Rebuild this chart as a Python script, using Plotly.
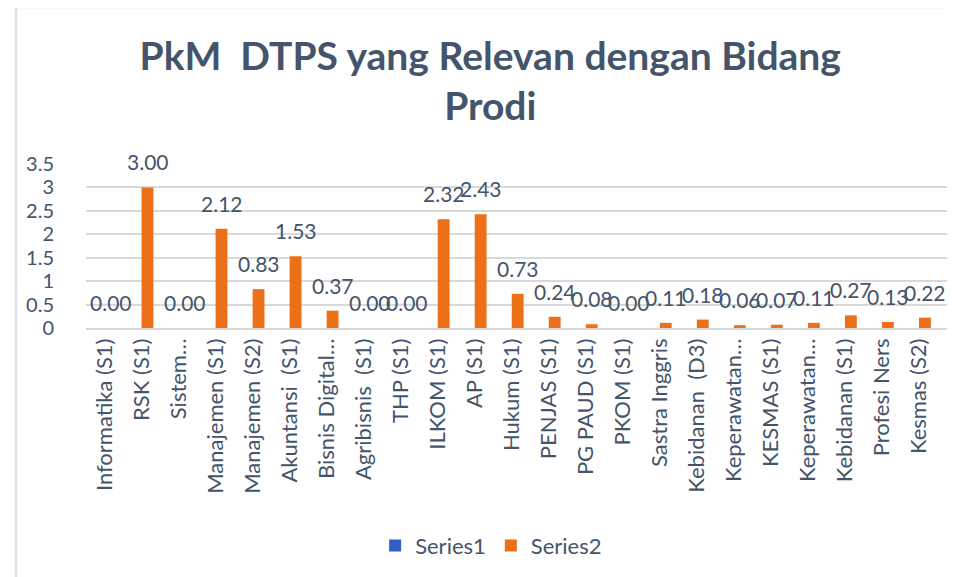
import plotly.graph_objects as go

categories = ["Informatika (S1)", "RSK (S1)", "Sistem Informasi (S1)", "Manajemen (S1)",
              "Manajemen (S2)", "Akuntansi  (S1)", "Bisnis Digital (S1)", "Agribisnis  (S1)",
              "THP (S1)", "ILKOM (S1)", "AP (S1)", "Hukum (S1)", "PENJAS (S1)",
              "PG PAUD (S1)", "PKOM (S1)", "Sastra Inggris", "Kebidanan  (D3)",
              "Keperawatan (D3)", "KESMAS (S1)", "Keperawatan (S1)", "Kebidanan (S1)",
              "Profesi Ners", "Kesmas (S2)"]
tick_labels = ["Informatika (S1)", "RSK (S1)", "Sistem…", "Manajemen (S1)",
               "Manajemen (S2)", "Akuntansi  (S1)", "Bisnis Digital…", "Agribisnis  (S1)",
               "THP (S1)", "ILKOM (S1)", "AP (S1)", "Hukum (S1)", "PENJAS (S1)",
               "PG PAUD (S1)", "PKOM (S1)", "Sastra Inggris", "Kebidanan  (D3)",
               "Keperawatan…", "KESMAS (S1)", "Keperawatan…", "Kebidanan (S1)",
               "Profesi Ners", "Kesmas (S2)"]
series1 = [0] * 23
series2 = [0.00, 3.00, 0.00, 2.12, 0.83, 1.53, 0.37, 0.00, 0.00, 2.32, 2.43, 0.73, 0.24,
           0.08, 0.00, 0.11, 0.18, 0.06, 0.07, 0.11, 0.27, 0.13, 0.22]
y_ticks = [0, 0.5, 1, 1.5, 2, 2.5, 3, 3.5]
y_tick_labels = ["0", "0.5", "1", "1.5", "2", "2.5", "3", "3.5"]

text_color = "#44546A"
font = "Lato"

fig = go.Figure()
fig.add_trace(go.Bar(name="Series1", x=categories, y=series1,
                     marker=dict(color="#2F5FC4", line=dict(width=0))))
fig.add_trace(go.Bar(name="Series2", x=categories, y=series2,
                     marker=dict(color="#EC7018", line=dict(width=0))))

for c, v in zip(categories, series2):
    fig.add_annotation(x=c, y=v, text=f"{v:.2f}", showarrow=False,
                       xshift=6, yshift=11, yanchor="bottom",
                       font=dict(family=font, size=21, color=text_color))

fig.add_shape(type="rect", xref="paper", yref="paper",
              x0=-70/862, x1=1.2, y0=-2.0, y1=1 + 157/164,
              line=dict(color="#DDE2EA", width=2.5), fillcolor="rgba(0,0,0,0)", layer="below")

fig.update_layout(
    width=955, height=577,
    margin=dict(l=78, r=15, t=156, b=257, autoexpand=False),
    paper_bgcolor="white", plot_bgcolor="white",
    barmode="group", bargap=0.36, bargroupgap=0,
    title=dict(text="PkM\u00a0 DTPS yang Relevan dengan Bidang<br>Prodi",
               x=0.505, xanchor="center", y=0.893, yref="container", yanchor="middle",
               font=dict(family=font, size=39, color=text_color, weight="bold")),
    font=dict(family=font, color=text_color),
    legend=dict(orientation="h", x=0.47, xanchor="center", yref="container",
                y=0.068, yanchor="middle", font=dict(size=22, color=text_color),
                itemclick=False),
    xaxis=dict(type="category", tickmode="array", tickvals=categories, ticktext=tick_labels,
               tickangle=-90, tickfont=dict(size=22, color=text_color),
               showgrid=False, showline=True, linecolor="#D9D9D9", linewidth=1.5,
               ticks="", automargin=False),
    yaxis=dict(range=[0, 3.5], tickvals=y_ticks, ticktext=y_tick_labels,
               tickfont=dict(size=20, color=text_color), showgrid=True,
               gridcolor="#D9D9D9", gridwidth=1.5, zeroline=False, showline=False,
               ticklabelstandoff=31, automargin=False),
)

fig.write_html("out.html")
